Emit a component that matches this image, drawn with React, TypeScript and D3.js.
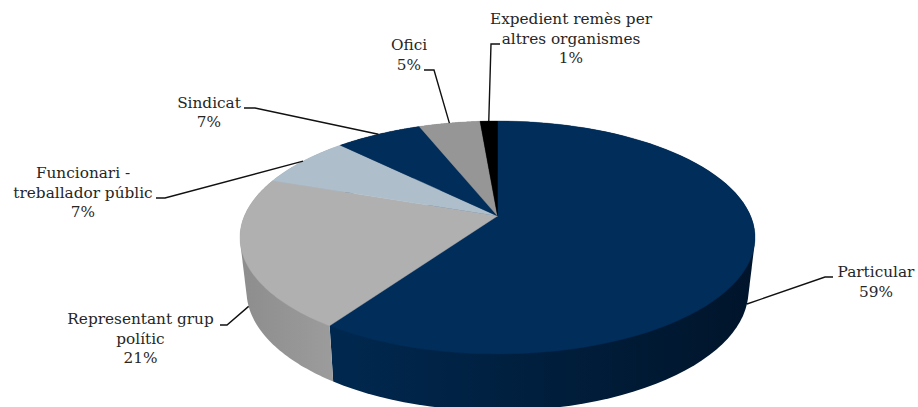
import React from "react";
import * as d3 from "d3";

const W = 918, H = 407;
const categories = ["Particular", "Representant grup polític", "Funcionari - treballador públic", "Sindicat", "Ofici", "Expedient remès per altres organismes"];
const values = [59.5, 20.9, 7.2, 6.5, 4.6, 1.3];
const percentLabels = ["59%", "21%", "7%", "7%", "5%", "1%"];
const topColors = ["#002D5A", "#B0B0B0", "#AFBECB", "#002D5A", "#969696", "#000000"];
const sideStops = [["#00284F", "#00152B"], ["#9C9C9C", "#8E8E8E"], ["#8D9AA5", "#8D9AA5"], ["#00152B", "#00152B"], ["#777777", "#777777"], ["#000000", "#000000"]];
const labelLines = [["Particular", "59%"], ["Representant grup", "polític", "21%"], ["Funcionari -", "treballador públic", "7%"], ["Sindicat", "7%"], ["Ofici", "5%"], ["Expedient remès per", "altres organismes", "1%"]];
// layout: text centre, first baseline, leader start, elbow; leader ends on rim at mid angle
const labelX = [876, 140.5, 83, 209, 409, 571];
const labelY = [277, 324, 178, 107.5, 50, 24];
const leaderStart = [[833, 277], [220, 325], [156, 198], [244, 108], [424, 70], [500, 44]];
const leaderElbow = [[825, 277], [227, 325], [165, 198], [255, 108], [434, 70], [491, 44]];
const leaderOnBase = [true, true, false, false, false, false];

const proj = (cx: number, cy: number, A: number, B: number, p: number) => (t: number): [number, number] => {
  const x = Math.sin(t), y = -Math.cos(t), k = 1 - p * y;
  return [cx + (A * x) / k, cy + (B * y) / k];
};
const topP = 43 / 233;
const apex: [number, number] = [497.5, 216];
const top = proj(apex[0], apex[1], 257.5 * Math.sqrt(1 - topP * topP), 112.5, topP);
const base = proj(497.5, 268, 246.4, 115.7, 0.19);

const arcs = d3.pie<number>().sort(null)(values);
const sample = (a: number, b: number) => d3.range(0, 1.0001, 1 / 80).map((u) => a + (b - a) * u);
const line = d3.line();

export default function App() {
  const font = "Georgia, 'DejaVu Serif', serif";
  return (
    <svg width={W} height={H} style={{ position: "absolute", left: 0, top: 0, background: "#fff" }} fontFamily={font}>
      <defs>
        {arcs.map((a, i) => {
          const xs = sample(a.startAngle, a.endAngle).map((t) => base(t)[0]);
          return (
            <linearGradient key={i} id={`side${i}`} gradientUnits="userSpaceOnUse" x1={d3.min(xs)} x2={d3.max(xs)} y1={0} y2={0}>
              <stop offset="0" stopColor={i === 0 ? sideStops[i][0] : sideStops[i][1]} />
              <stop offset="1" stopColor={i === 0 ? sideStops[i][1] : sideStops[i][0]} />
            </linearGradient>
          );
        })}
      </defs>
      {arcs.map((a, i) => {
        const ts = sample(a.startAngle, a.endAngle);
        const hull = d3.polygonHull([...ts.map(top), ...ts.map(base)]) as [number, number][];
        return <path key={i} d={line(hull) + "Z"} fill={`url(#side${i})`} />;
      })}
      {arcs.map((a, i) => (
        <path key={i} d={line([apex, ...sample(a.startAngle, a.endAngle).map(top)]) + "Z"} fill={topColors[i]} stroke={topColors[i]} strokeWidth={0.4} />
      ))}
      {arcs.map((a, i) => {
        const mid = (a.startAngle + a.endAngle) / 2;
        const end = leaderOnBase[i] ? base(mid) : top(mid);
        return <path key={i} d={line([leaderStart[i] as [number, number], leaderElbow[i] as [number, number], end]) as string} fill="none" stroke="#111" strokeWidth={1.4} />;
      })}
      {labelLines.map((ls, i) => (
        <text key={i} x={labelX[i]} y={labelY[i]} textAnchor="middle" fontSize={15.3} fill="#262626" aria-label={categories[i] + " " + percentLabels[i]}>
          {ls.map((l, j) => (
            <tspan key={j} x={labelX[i]} dy={j === 0 ? 0 : 19.5}>{l}</tspan>
          ))}
        </text>
      ))}
    </svg>
  );
}
